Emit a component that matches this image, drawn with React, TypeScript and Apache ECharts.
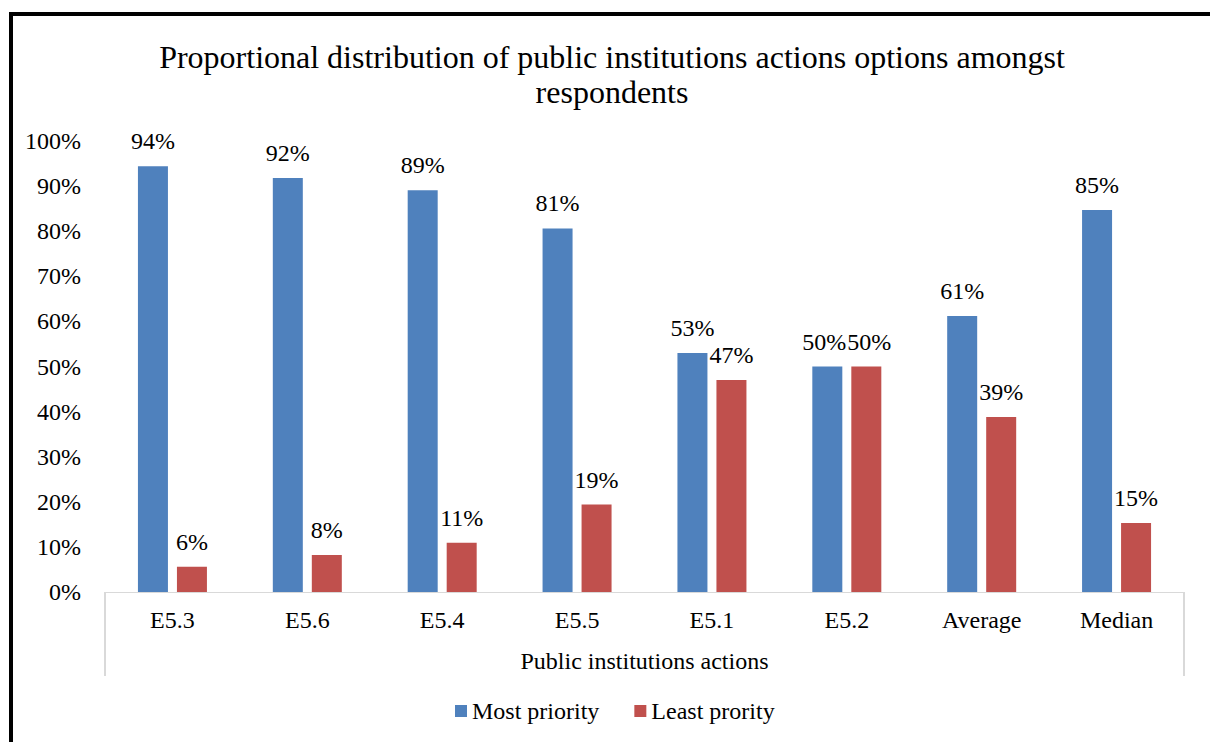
import React, { useEffect, useRef } from "react";
import * as echarts from "echarts";

const categories = ["E5.3", "E5.6", "E5.4", "E5.5", "E5.1", "E5.2", "Average", "Median"];
const mostPriority = [0.944, 0.918, 0.891, 0.806, 0.53, 0.5, 0.612, 0.847];
const leastPriority = [0.056, 0.082, 0.109, 0.194, 0.47, 0.5, 0.388, 0.153];
const titleText = "Proportional distribution of public institutions actions options amongst\nrespondents";
const axisName = "Public institutions actions";
const seriesNames = ["Most priority", "Least prority"];

const FONT = "Liberation Serif";
const FS = 24;

export default function App() {
  const ref = useRef<HTMLDivElement>(null);
  useEffect(() => {
    if (!ref.current) return;
    const chart = echarts.init(ref.current, undefined, { renderer: "svg" });
    const pct = (v: number) => Math.round(v * 100) + "%";
    const gridBox = { left: 105, right: 26, top: 141, bottom: 150 };
    // nudge the two touching labels of E5.2 slightly apart
    const withNudge = (arr: number[], dx: number) =>
      arr.map((v, i) => (categories[i] === "E5.2" ? { value: v, label: { offset: [dx, 0] } } : v));
    const labelCfg = {
      show: true,
      position: "top",
      distance: 13,
      fontFamily: FONT,
      fontSize: FS,
      color: "#000",
      formatter: (p: any) => pct(p.value),
    };
    chart.setOption({
      animation: false,
      backgroundColor: "#ffffff",
      textStyle: { fontFamily: FONT, color: "#000" },
      title: {
        text: titleText,
        left: 612,
        textAlign: "center",
        top: 39,
        padding: 0,
        textStyle: { fontFamily: FONT, fontSize: 32, fontWeight: "normal", color: "#000", lineHeight: 35 },
      },
      graphic: [
        {
          type: "rect",
          shape: { x: 11, y: 14, width: 1400, height: 900 },
          style: { fill: "none", stroke: "#000", lineWidth: 4 },
          silent: true,
        },
      ],
      legend: {
        data: seriesNames,
        bottom: 14,
        left: 450,
        icon: "rect",
        itemWidth: 12,
        itemHeight: 12,
        itemGap: 35,
        textStyle: { fontFamily: FONT, fontSize: FS, color: "#000" },
      },
      grid: [
        { ...gridBox, containLabel: false },
        { ...gridBox, containLabel: false },
      ],
      xAxis: [
        {
          type: "category",
          gridIndex: 0,
          data: categories,
          axisLine: { show: true, lineStyle: { color: "#d9d9d9", width: 1 } },
          axisTick: { show: false },
          axisLabel: { fontFamily: FONT, fontSize: FS, color: "#000", margin: 16 },
        },
        {
          type: "category",
          gridIndex: 1,
          data: [""],
          axisLine: { show: false },
          axisTick: { show: true, length: 84, lineStyle: { color: "#d9d9d9", width: 2 } },
          axisLabel: { show: false },
          name: axisName,
          nameLocation: "middle",
          nameGap: 57,
          nameTextStyle: { fontFamily: FONT, fontSize: FS, color: "#000" },
        },
      ],
      yAxis: [
        {
          type: "value",
          gridIndex: 0,
          min: 0,
          max: 1,
          interval: 0.1,
          axisLine: { show: false },
          axisTick: { show: false },
          splitLine: { show: false },
          axisLabel: { fontFamily: FONT, fontSize: FS, color: "#000", margin: 24, formatter: (v: number) => Math.round(v * 100) + "%" },
        },
        { type: "value", gridIndex: 1, show: false, min: 0, max: 1 },
      ],
      series: [
        {
          name: seriesNames[0],
          type: "bar",
          xAxisIndex: 0,
          yAxisIndex: 0,
          data: withNudge(mostPriority, -3),
          barWidth: 30,
          barGap: "30%",
          itemStyle: { color: "#4F81BD" },
          label: labelCfg,
        },
        {
          name: seriesNames[1],
          type: "bar",
          xAxisIndex: 0,
          yAxisIndex: 0,
          data: withNudge(leastPriority, 3),
          barWidth: 30,
          barGap: "30%",
          itemStyle: { color: "#C0504D" },
          label: labelCfg,
        },
      ],
    });
    return () => chart.dispose();
  }, []);
  return (
    <div style={{ position: "fixed", left: 0, top: 0, width: 1210, height: 742, overflow: "hidden", background: "#fff" }}>
      <div ref={ref} style={{ width: 1210, height: 742 }} />
    </div>
  );
}
